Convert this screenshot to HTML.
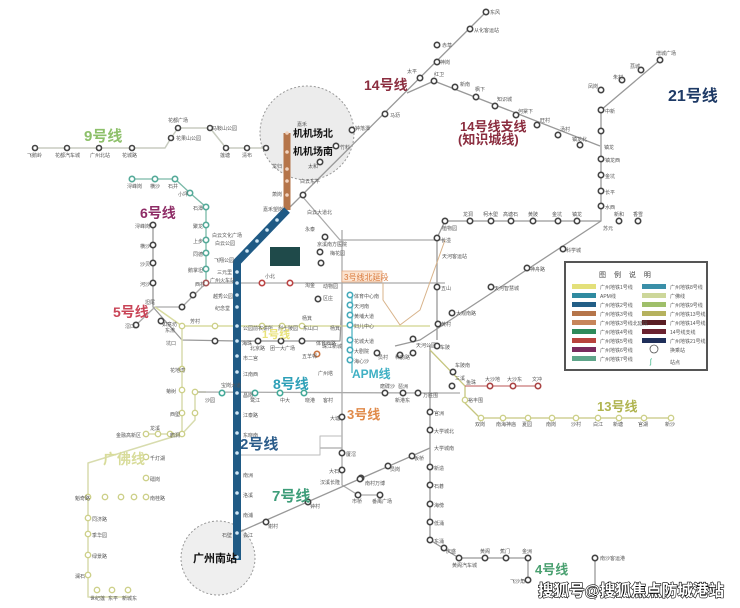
<!DOCTYPE html>
<html><head><meta charset="utf-8"><style>
html,body{margin:0;padding:0;background:#fff}
svg{display:block}
text{font-family:"Liberation Sans","Noto Sans CJK SC",sans-serif}
.s{font-size:5px;fill:#555}
.st{fill:#fff;stroke:#444;stroke-width:1.6}
.L{font-weight:bold}
</style></head><body>
<svg width="740" height="608" viewBox="0 0 740 608" xmlns="http://www.w3.org/2000/svg">
<rect width="740" height="608" fill="#fff"/>
<circle cx="307" cy="133" r="47" fill="#ececec" stroke="#999" stroke-dasharray="2,2"/>
<circle cx="218" cy="558" r="37" fill="#efefef" stroke="#999" stroke-dasharray="2,2"/>

<g fill="none" stroke-linejoin="round">
<polyline points="35,148 165,148 171,138 178,128 210,128 226,148 266,148" stroke="#c8ccc0" stroke-width="1.5"/>
<polyline points="287,210 486,12" stroke="#999" stroke-width="1.3"/>
<polyline points="407,93 434,81 600,146" stroke="#999" stroke-width="1.3"/>
<polyline points="660,60 601,110 601,221 445,221 437,238 437,340" stroke="#999" stroke-width="1.3"/>
<polyline points="601,221 420,340 395,346" stroke="#999" stroke-width="1.3"/>
<polyline points="132,179 175,179 190,193 206,207 206,283" stroke="#7ab9a8" stroke-width="1.3"/>
<polyline points="153,225 153,307 182,340 237,341 340,341 342,300" stroke="#999" stroke-width="1.3"/>
<polyline points="136,325 155,307 182,307 206,283 445,283" stroke="#aaa" stroke-width="1.3"/>
<polyline points="155,307 182,326 310,326 400,326 430,326" stroke="#d9dca0" stroke-width="1.5"/>
<polyline points="182,326 182,392 182,434 88,463 88,597 130,597" stroke="#d8dcae" stroke-width="1.5"/>
<polyline points="146,434 182,434 195,420 195,392 206,392" stroke="#d8dcae" stroke-width="1.5"/>
<polyline points="195,392 430,393 460,393" stroke="#aaa" stroke-width="1.3"/>
<polyline points="342,230 342,485 358,495 380,495" stroke="#aaa" stroke-width="1.3"/>
<polyline points="320,448 342,448" stroke="#aaa" stroke-width="1.3"/>
<polyline points="237,455 320,455 320,436 342,436" stroke="#bbb" stroke-width="1"/>
<polyline points="352,295 352,373" stroke="#4fb3c4" stroke-width="1.3"/>
<polyline points="430,345 430,540 459,558 528,558 528,580" stroke="#999" stroke-width="1.3"/>
<polyline points="430,350 465,386 465,403 480,418 671,418" stroke="#c6c680" stroke-width="1.3"/>
<polyline points="465,386 540,386" stroke="#b55" stroke-width="1"/>
<polyline points="237,533 430,448" stroke="#999" stroke-width="1.3"/>
<polyline points="595,560 595,600" stroke="#999" stroke-width="1.3"/>
<polyline points="302,196 340,240 445,240" stroke="#aaa" stroke-width="1.3"/>
<polyline points="383,283 383,300 400,325 420,310 445,240" stroke="#d8b38a" stroke-width="1"/>
<line x1="287" y1="133" x2="287" y2="210" stroke="#b5754a" stroke-width="7"/>
<polyline points="287,210 237,262 237,560" stroke="#1f5a85" stroke-width="8"/>
</g>

<g class="st">
<circle cx="35" cy="148" r="2.5"/><circle cx="67" cy="148" r="2.5"/><circle cx="99" cy="148" r="2.5"/><circle cx="132" cy="148" r="2.5"/>
<circle cx="178" cy="128" r="2.5"/><circle cx="171" cy="138" r="2.5"/><circle cx="210" cy="128" r="2.5"/><circle cx="226" cy="148" r="2.5"/><circle cx="247" cy="148" r="2.5"/><circle cx="266" cy="148" r="2.5"/>
<circle cx="352" cy="130" r="2.7"/><circle cx="336" cy="146" r="2.7"/><circle cx="320" cy="162" r="2.7"/><circle cx="303" cy="195" r="2.7"/>
<circle cx="385" cy="114" r="2.7"/><circle cx="420" cy="78" r="2.7"/><circle cx="437" cy="62" r="2.7"/><circle cx="437" cy="45" r="2.7"/><circle cx="470" cy="29" r="2.7"/><circle cx="486" cy="12" r="2.7"/>
<circle cx="434" cy="81" r="2.7"/><circle cx="455" cy="87" r="2.7"/><circle cx="476" cy="97" r="2.7"/><circle cx="495" cy="106" r="2.7"/><circle cx="516" cy="115" r="2.7"/><circle cx="537" cy="125" r="2.7"/><circle cx="558" cy="135" r="2.7"/><circle cx="580" cy="145" r="2.7"/>
<circle cx="660" cy="60" r="2.7"/><circle cx="641" cy="70" r="2.7"/><circle cx="622" cy="80" r="2.7"/><circle cx="601" cy="90" r="2.7"/><circle cx="601" cy="110" r="2.7"/><circle cx="601" cy="131" r="2.7"/><circle cx="601" cy="159" r="2.7"/><circle cx="601" cy="175" r="2.7"/><circle cx="601" cy="191" r="2.7"/><circle cx="601" cy="206" r="2.7"/>
<circle cx="470" cy="221" r="2.7"/><circle cx="491" cy="221" r="2.7"/><circle cx="511" cy="221" r="2.7"/><circle cx="533" cy="221" r="2.7"/><circle cx="558" cy="221" r="2.7"/><circle cx="577" cy="221" r="2.7"/><circle cx="619" cy="221" r="2.7"/><circle cx="638" cy="221" r="2.7"/><circle cx="445" cy="221" r="2.7"/><circle cx="437" cy="238" r="2.7"/><circle cx="437" cy="287" r="2.7"/>
<circle cx="563" cy="249" r="2.7"/><circle cx="527" cy="268" r="2.7"/><circle cx="491" cy="287" r="2.7"/>
<circle cx="452" cy="313" r="2.7"/><circle cx="438" cy="324" r="2.7"/><circle cx="413" cy="339" r="2.7"/><circle cx="437" cy="346" r="2.7"/><circle cx="400" cy="355" r="2.7"/><circle cx="377" cy="353" r="2.7"/><circle cx="413" cy="353" r="2.7"/><circle cx="453" cy="372" r="2.7"/><circle cx="452" cy="386" r="2.7"/>
<circle cx="490" cy="386" r="2.7" stroke="#a44"/><circle cx="513" cy="386" r="2.7" stroke="#a44"/><circle cx="538" cy="386" r="2.7" stroke="#a44"/>
<circle cx="132" cy="179" r="2.7" stroke="#5a9"/><circle cx="155" cy="179" r="2.7" stroke="#5a9"/><circle cx="175" cy="179" r="2.7" stroke="#5a9"/><circle cx="190" cy="193" r="2.7" stroke="#5a9"/>
<circle cx="206" cy="207" r="2.7" stroke="#5a9"/><circle cx="206" cy="225" r="2.7" stroke="#5a9"/><circle cx="206" cy="240" r="2.7" stroke="#5a9"/><circle cx="206" cy="253" r="2.7" stroke="#5a9"/><circle cx="206" cy="269" r="2.7" stroke="#5a9"/><circle cx="206" cy="283" r="2.7" stroke="#a55"/>
<circle cx="153" cy="225" r="2.7"/><circle cx="153" cy="245" r="2.7"/><circle cx="153" cy="263" r="2.7"/><circle cx="153" cy="283" r="2.7"/>
<circle cx="136" cy="325" r="2.7"/><circle cx="161" cy="321" r="2.7"/><circle cx="182" cy="307" r="2.7"/><circle cx="193" cy="295" r="2.7"/><circle cx="215" cy="341" r="2.7"/>
<circle cx="262" cy="283" r="2.7" stroke="#b44"/><circle cx="290" cy="283" r="2.7" stroke="#b44"/>
<circle cx="258" cy="341" r="2.7"/><circle cx="281" cy="341" r="2.7"/><circle cx="302" cy="341" r="2.7"/><circle cx="317" cy="354" r="2.7" stroke="#c74"/>
<circle cx="318" cy="299" r="2.7"/><circle cx="321" cy="263" r="2.7"/><circle cx="320" cy="252" r="2.7"/><circle cx="325" cy="237" r="2.7"/>
<circle cx="350" cy="295" r="2.7" stroke="#4ab"/><circle cx="350" cy="305" r="2.7" stroke="#4ab"/><circle cx="350" cy="315" r="2.7" stroke="#4ab"/><circle cx="350" cy="325" r="2.7" stroke="#4ab"/><circle cx="350" cy="340" r="2.7" stroke="#4ab"/><circle cx="350" cy="350" r="2.7" stroke="#4ab"/><circle cx="350" cy="360" r="2.7" stroke="#4ab"/>
<circle cx="255" cy="393" r="2.7" stroke="#4a9"/><circle cx="280" cy="393" r="2.7" stroke="#4a9"/><circle cx="304" cy="393" r="2.7" stroke="#4a9"/><circle cx="222" cy="393" r="2.7" stroke="#4a9"/>
<circle cx="385" cy="393" r="2.7"/><circle cx="403" cy="393" r="2.7"/><circle cx="418" cy="393" r="2.7"/>
<circle cx="342" cy="417" r="2.7"/><circle cx="342" cy="453" r="2.7"/><circle cx="342" cy="470" r="2.7"/><circle cx="358" cy="495" r="2.7"/><circle cx="380" cy="495" r="2.7"/><circle cx="361" cy="478" r="2.7"/>
<circle cx="430" cy="412" r="2.7"/><circle cx="430" cy="430" r="2.7"/><circle cx="430" cy="467" r="2.7"/><circle cx="430" cy="485" r="2.7"/><circle cx="430" cy="504" r="2.7"/><circle cx="430" cy="522" r="2.7"/><circle cx="430" cy="540" r="2.7"/><circle cx="444" cy="548" r="2.7"/><circle cx="459" cy="558" r="2.7"/><circle cx="485" cy="558" r="2.7"/><circle cx="506" cy="558" r="2.7"/><circle cx="528" cy="558" r="2.7"/><circle cx="528" cy="580" r="2.7"/><circle cx="595" cy="558" r="2.7"/>
<circle cx="266" cy="522" r="2.7"/><circle cx="308" cy="502" r="2.7"/><circle cx="360" cy="479" r="2.7"/><circle cx="388" cy="466" r="2.7"/><circle cx="412" cy="456" r="2.7"/>
</g>
<g fill="#fff" stroke="#cdd08a" stroke-width="1.4">
<circle cx="481" cy="418" r="2.7"/><circle cx="503" cy="418" r="2.7"/><circle cx="528" cy="418" r="2.7"/><circle cx="552" cy="418" r="2.7"/><circle cx="576" cy="418" r="2.7"/><circle cx="598" cy="418" r="2.7"/><circle cx="619" cy="418" r="2.7"/><circle cx="644" cy="418" r="2.7"/><circle cx="671" cy="418" r="2.7"/><circle cx="465" cy="400" r="2.7"/>
<circle cx="182" cy="326" r="2.7"/><circle cx="182" cy="369" r="2.7"/><circle cx="182" cy="390" r="2.7"/><circle cx="182" cy="413" r="2.7"/><circle cx="195" cy="392" r="2.7"/><circle cx="195" cy="413" r="2.7"/><circle cx="146" cy="434" r="2.7"/><circle cx="158" cy="434" r="2.7"/><circle cx="170" cy="434" r="2.7"/><circle cx="182" cy="434" r="2.7"/>
<circle cx="146" cy="457" r="2.7"/><circle cx="146" cy="478" r="2.7"/><circle cx="146" cy="497" r="2.7"/><circle cx="134" cy="497" r="2.7"/><circle cx="121" cy="497" r="2.7"/><circle cx="105" cy="497" r="2.7"/><circle cx="88" cy="497" r="2.7"/>
<circle cx="88" cy="518" r="2.7"/><circle cx="88" cy="534" r="2.7"/><circle cx="88" cy="555" r="2.7"/><circle cx="88" cy="575" r="2.7"/><circle cx="97" cy="590" r="2.7"/><circle cx="112" cy="590" r="2.7"/><circle cx="128" cy="590" r="2.7"/>
<circle cx="215" cy="326" r="2.7"/><circle cx="262" cy="326" r="2.7"/><circle cx="282" cy="326" r="2.7"/><circle cx="302" cy="326" r="2.7"/>
</g>
<g fill="#cfe6f5">
<circle cx="237" cy="272" r="1.8"/><circle cx="237" cy="283" r="1.8"/><circle cx="237" cy="295" r="1.8"/><circle cx="237" cy="307" r="1.8"/><circle cx="237" cy="326" r="1.8"/><circle cx="237" cy="341" r="1.8"/><circle cx="237" cy="356" r="1.8"/><circle cx="237" cy="372" r="1.8"/><circle cx="237" cy="393" r="1.8"/><circle cx="237" cy="413" r="1.8"/><circle cx="237" cy="433" r="1.8"/><circle cx="237" cy="453" r="1.8"/><circle cx="237" cy="473" r="1.8"/><circle cx="237" cy="493" r="1.8"/><circle cx="237" cy="513" r="1.8"/><circle cx="237" cy="533" r="1.8"/><circle cx="237" cy="557" r="1.8"/>
<circle cx="277" cy="220" r="1.8"/><circle cx="267" cy="230" r="1.8"/><circle cx="257" cy="241" r="1.8"/><circle cx="247" cy="251" r="1.8"/>
</g>
<g fill="#f1d3bf"><circle cx="287" cy="133" r="1.8"/><circle cx="287" cy="152" r="1.8"/><circle cx="287" cy="169" r="1.8"/><circle cx="287" cy="181" r="1.8"/><circle cx="287" cy="195" r="1.8"/></g>

<rect x="270" y="247" width="30" height="19" fill="#1f4a4a"/>

<g class="s">
<text x="27" y="157">飞鹅岭</text><text x="55" y="157">花都汽车城</text><text x="90" y="157">广州北站</text><text x="122" y="157">花城路</text>
<text x="168" y="122">花都广场</text><text x="212" y="130">马鞍山公园</text><text x="176" y="140">花果山公园</text><text x="220" y="157">莲塘</text><text x="242" y="157">清布</text>
<text x="127" y="188">浔峰岗</text><text x="150" y="188">横沙</text><text x="168" y="188">石井</text><text x="178" y="196">小坪</text><text x="193" y="210">石潭</text><text x="193" y="228">聚龙</text><text x="193" y="243">上步</text><text x="193" y="256">同德</text><text x="188" y="272">鹅掌坦</text><text x="195" y="286">西村</text>
<text x="135" y="228">浔峰岗</text><text x="140" y="248">横沙</text><text x="140" y="266">沙贝</text><text x="140" y="286">河沙</text><text x="145" y="304">坦尾</text><text x="125" y="328">滘口</text><text x="162" y="326">如意坊</text>
<text x="212" y="237">白云文化广场</text><text x="215" y="245">白云公园</text><text x="214" y="262">飞翔公园</text><text x="217" y="274">三元里</text><text x="210" y="282">广州火车站</text><text x="213" y="298">越秀公园</text><text x="215" y="310">纪念堂</text>
<text x="243" y="330">公园前</text><text x="258" y="330">农讲所</text><text x="278" y="330">烈士陵园</text><text x="303" y="330">东山口</text><text x="330" y="330">杨箕</text>
<text x="242" y="345">海珠</text><text x="250" y="350">北京路</text><text x="270" y="350">团一大广场</text><text x="243" y="360">市二宫</text><text x="243" y="376">江南西</text><text x="243" y="397">昌岗</text><text x="243" y="417">江泰路</text><text x="243" y="437">东晓南</text><text x="243" y="477">南洲</text><text x="243" y="497">洛溪</text><text x="243" y="517">南浦</text><text x="243" y="537">会江</text><text x="222" y="537">石壁</text>
<text x="297" y="126">嘉禾</text><text x="272" y="168">龙归</text><text x="272" y="196">萧岗</text><text x="263" y="211">嘉禾望岗</text><text x="308" y="168">太和</text><text x="300" y="183">白云东平</text><text x="307" y="214">白云大道北</text><text x="305" y="231">永泰</text><text x="317" y="246">京溪南方医院</text><text x="330" y="255">梅花园</text>
<text x="355" y="130">钟落潭</text><text x="340" y="149">竹料</text><text x="390" y="117">马沥</text><text x="407" y="73">太平</text><text x="440" y="64">神岗</text><text x="442" y="47">赤草</text><text x="474" y="32">从化客运站</text><text x="490" y="14">东风</text>
<text x="434" y="76">红卫</text><text x="460" y="86">新南</text><text x="475" y="91">枫下</text><text x="497" y="101">知识城</text><text x="518" y="113">何棠下</text><text x="540" y="122">旺村</text><text x="560" y="131">汤村</text><text x="572" y="141">镇龙北</text><text x="604" y="149">镇龙</text>
<text x="656" y="55">增城广场</text><text x="630" y="68">荔城</text><text x="613" y="79">朱村</text><text x="588" y="88">凤岗</text><text x="605" y="113">中新</text><text x="605" y="162">镇龙西</text><text x="605" y="178">金坑</text><text x="605" y="194">长平</text><text x="605" y="209">水西</text><text x="603" y="230">苏元</text>
<text x="463" y="216">龙洞</text><text x="483" y="216">柯木塱</text><text x="503" y="216">高塘石</text><text x="528" y="216">黄陂</text><text x="552" y="216">金坑</text><text x="572" y="216">镇龙</text><text x="614" y="216">新和</text><text x="633" y="216">香雪</text>
<text x="442" y="230">植物园</text><text x="441" y="242">长湴</text><text x="442" y="258">天河客运站</text><text x="441" y="290">五山</text><text x="566" y="252">科学城</text><text x="530" y="271">神舟路</text><text x="494" y="290">天河智慧城</text>
<text x="456" y="315">大观南路</text><text x="441" y="326">黄村</text><text x="416" y="347">天河公园</text><text x="440" y="349">车陂</text><text x="378" y="359">员村</text><text x="395" y="359">科韵路</text><text x="455" y="367">车陂南</text><text x="455" y="380">三溪</text><text x="466" y="384">鱼珠</text><text x="485" y="381">大沙地</text><text x="507" y="381">大沙东</text><text x="532" y="381">文冲</text>
<text x="468" y="402">裕丰围</text><text x="475" y="426">双岗</text><text x="496" y="426">南海神庙</text><text x="522" y="426">夏园</text><text x="546" y="426">南岗</text><text x="571" y="426">沙村</text><text x="593" y="426">白江</text><text x="613" y="426">新塘</text><text x="638" y="426">官湖</text><text x="665" y="426">新沙</text>
<text x="434" y="415">官洲</text><text x="434" y="433">大学城北</text><text x="434" y="450">大学城南</text><text x="434" y="470">新造</text><text x="434" y="488">石碁</text><text x="434" y="507">海傍</text><text x="434" y="525">低涌</text><text x="434" y="543">东涌</text><text x="446" y="553">庆盛</text><text x="452" y="567">黄阁汽车城</text><text x="480" y="553">黄阁</text><text x="500" y="553">蕉门</text><text x="522" y="553">金洲</text><text x="510" y="583">飞沙角</text><text x="600" y="560">南沙客运港</text>
<text x="423" y="397">万胜围</text><text x="380" y="388">磨碟沙</text><text x="398" y="388">琶洲</text><text x="395" y="402">新港东</text><text x="305" y="402">晓港</text><text x="280" y="402">中大</text><text x="250" y="402">鹭江</text><text x="323" y="402">客村</text><text x="221" y="387">宝岗大道</text><text x="205" y="402">沙园</text>
<text x="330" y="420">大塘</text><text x="346" y="456">厦滘</text><text x="329" y="473">大石</text><text x="320" y="484">汉溪长隆</text><text x="352" y="503">市桥</text><text x="372" y="503">番禺广场</text><text x="365" y="485">南村万博</text><text x="390" y="471">员岗</text><text x="414" y="460">板桥</text><text x="310" y="508">钟村</text><text x="268" y="528">谢村</text>
<text x="323" y="300">区庄</text><text x="323" y="288">动物园</text><text x="305" y="287">淘金</text><text x="265" y="278">小北</text><text x="302" y="320">杨箕</text><text x="316" y="345">体育西路</text><text x="302" y="358">五羊邨</text><text x="318" y="375">广州塔</text><text x="322" y="348">珠江新城</text>
<text x="354" y="298">体育中心南</text><text x="354" y="308">天河南</text><text x="354" y="318">黄埔大道</text><text x="354" y="328">妇儿中心</text><text x="354" y="343">花城大道</text><text x="354" y="353">大剧院</text><text x="354" y="363">海心沙</text>
<text x="165" y="332">东漖</text><text x="190" y="323">芳村</text><text x="166" y="345">坑口</text><text x="170" y="372">花地湾</text><text x="166" y="393">菊树</text><text x="170" y="416">西塱</text><text x="170" y="437">鹤洞</text><text x="116" y="437">金融高新区</text><text x="150" y="430">龙溪</text><text x="150" y="460">千灯湖</text><text x="150" y="481">礌岗</text><text x="150" y="500">南桂路</text><text x="75" y="500">魁奇路</text><text x="92" y="521">同济路</text><text x="92" y="537">季华园</text><text x="92" y="558">绿景路</text><text x="75" y="578">澜石</text><text x="90" y="600">世纪莲</text><text x="108" y="600">东平</text><text x="122" y="600">新城东</text>
</g>

<rect x="342" y="271" width="40" height="11" fill="#fbe3d0" stroke="#e3a47a" stroke-width="0.7"/>
<text x="344" y="280" font-size="8" fill="#d9783a">3号线北延段</text>

<g class="L">
<text x="84" y="141" font-size="15" fill="#8dc06a">9号线</text>
<text x="364" y="90" font-size="14" fill="#8b2d3f">14号线</text>
<text x="460" y="131" font-size="13" fill="#8b2d3f">14号线支线</text>
<text x="458" y="144" font-size="13" fill="#8b2d3f">(知识城线)</text>
<text x="668" y="101" font-size="16" fill="#1e3a66">21号线</text>
<text x="140" y="218" font-size="14" fill="#8e2c66">6号线</text>
<text x="113" y="317" font-size="14" fill="#c94557">5号线</text>
<text x="262" y="338" font-size="11" fill="#e8e27a">1号线</text>
<text x="273" y="389" font-size="14" fill="#2ea0b8">8号线</text>
<text x="352" y="378" font-size="12" fill="#3fb0c4">APM线</text>
<text x="347" y="419" font-size="13" fill="#e08a4a">3号线</text>
<text x="240" y="449" font-size="15" fill="#2b5c8a">2号线</text>
<text x="272" y="501" font-size="15" fill="#3e9d79">7号线</text>
<text x="597" y="411" font-size="13" fill="#b0b450">13号线</text>
<text x="535" y="574" font-size="13" fill="#4aa070">4号线</text>
<text x="103" y="464" font-size="14" fill="#d8dc9a">广佛线</text>
<text x="293" y="137" font-size="10" fill="#111">机机场北</text>
<text x="293" y="155" font-size="10" fill="#111">机机场南</text>
<text x="193" y="562" font-size="11" fill="#111">广州南站</text>
</g>

<rect x="565" y="262" width="142" height="108" fill="#fff" stroke="#555" stroke-width="2"/>
<text x="599" y="277" font-size="7" fill="#444" letter-spacing="3">图 例 说 明</text>
<g>
<rect x="572" y="284" width="24" height="5" fill="#e3e07a"/>
<rect x="572" y="293" width="24" height="5" fill="#2f8aa0"/>
<rect x="572" y="302" width="24" height="5" fill="#225e86"/>
<rect x="572" y="311" width="24" height="5" fill="#b5754a"/>
<rect x="572" y="320" width="24" height="5" fill="#c7855a"/>
<rect x="572" y="329" width="24" height="5" fill="#2e8a5a"/>
<rect x="572" y="338" width="24" height="5" fill="#b8433d"/>
<rect x="572" y="347" width="24" height="5" fill="#7a2a5e"/>
<rect x="572" y="356" width="24" height="5" fill="#5fa58a"/>
<rect x="642" y="284" width="24" height="5" fill="#3a8fa8"/>
<rect x="642" y="293" width="24" height="5" fill="#cdd79a"/>
<rect x="642" y="302" width="24" height="5" fill="#9fbf6a"/>
<rect x="642" y="311" width="24" height="5" fill="#b6b25e"/>
<rect x="642" y="320" width="24" height="5" fill="#5a1e24"/>
<rect x="642" y="329" width="24" height="5" fill="#6b2230"/>
<rect x="642" y="338" width="24" height="5" fill="#1f2f5a"/>
<circle cx="654" cy="349" r="4" fill="none" stroke="#555" stroke-width="0.8"/>
<text x="650" y="364" font-size="7" fill="#2a7">ʃ</text>
</g>
<g class="s" font-size="4">
<text x="600" y="289">广州地铁1号线</text><text x="600" y="298">APM线</text><text x="600" y="307">广州地铁2号线</text><text x="600" y="316">广州地铁3号线</text><text x="600" y="325">广州地铁3号线北延段</text><text x="600" y="334">广州地铁4号线</text><text x="600" y="343">广州地铁5号线</text><text x="600" y="352">广州地铁6号线</text><text x="600" y="361">广州地铁7号线</text>
<text x="670" y="289">广州地铁8号线</text><text x="670" y="298">广佛线</text><text x="670" y="307">广州地铁9号线</text><text x="670" y="316">广州地铁13号线</text><text x="670" y="325">广州地铁14号线</text><text x="670" y="334">14号线支线</text><text x="670" y="343">广州地铁21号线</text><text x="670" y="352">换乘站</text><text x="670" y="364">站点</text>
</g>

<text x="538" y="596" font-size="16" font-weight="bold" fill="#fff" stroke="#000" stroke-width="1.2" paint-order="stroke" textLength="186" lengthAdjust="spacingAndGlyphs">搜狐号@搜狐焦点防城港站</text>
</svg>
</body></html>
